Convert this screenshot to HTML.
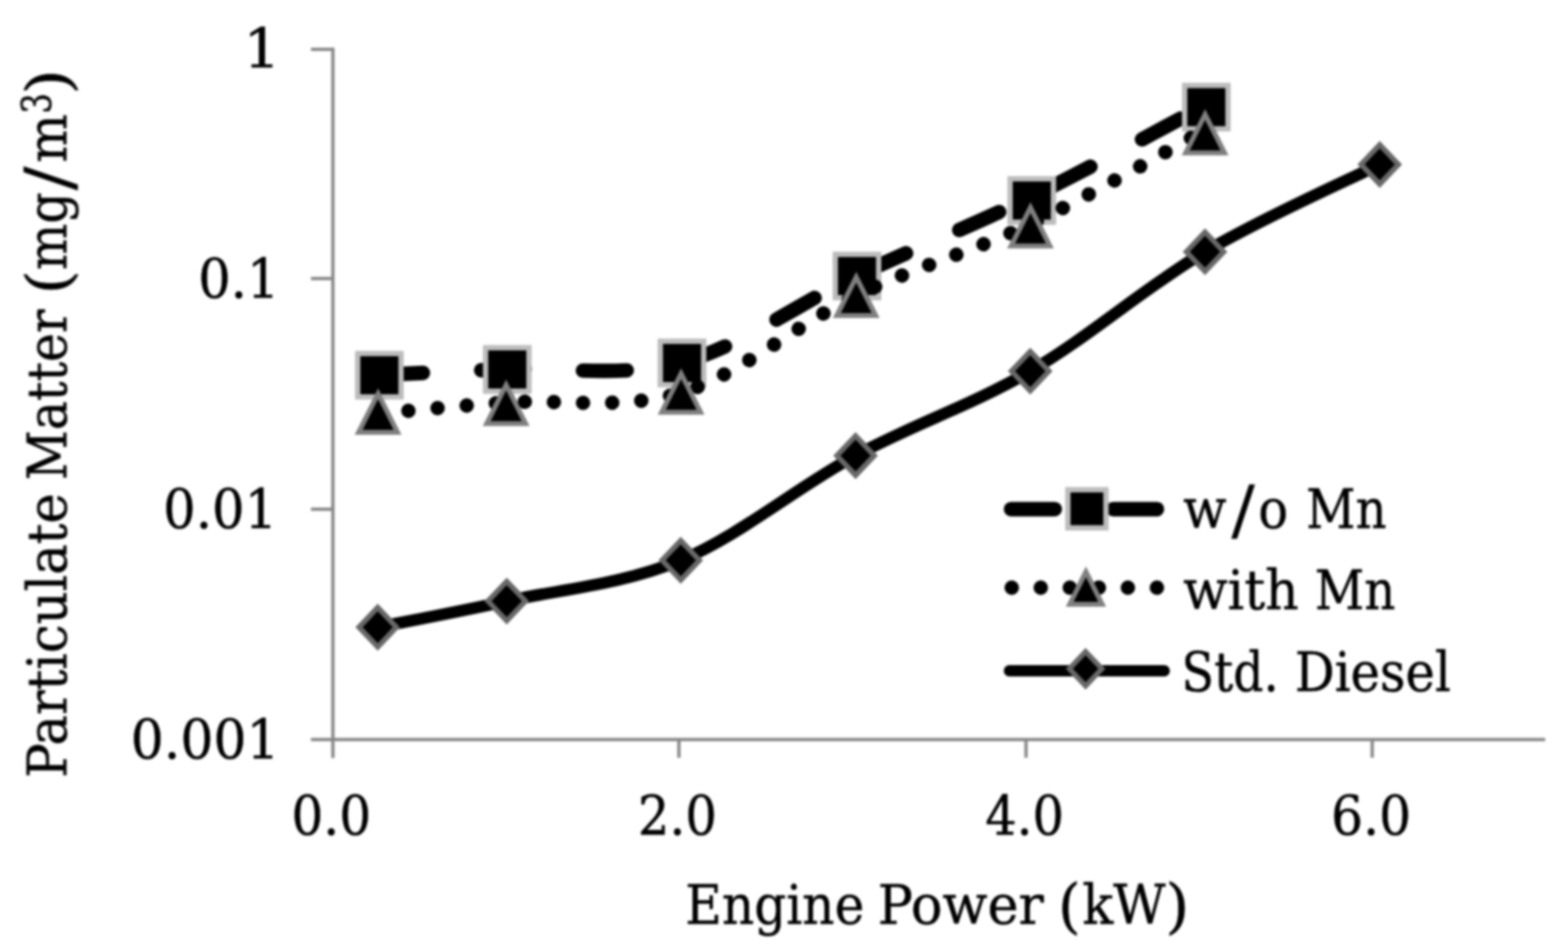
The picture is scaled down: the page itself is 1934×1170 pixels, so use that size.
<!DOCTYPE html>
<html lang="en"><head><meta charset="utf-8"><title>Particulate Matter vs Engine Power</title>
<style>html,body{margin:0;padding:0;background:#fff;}body{width:1934px;height:1170px;overflow:hidden;}svg{display:block;}text{font-family:"DejaVu Serif","Liberation Serif",serif;fill:#000;}</style>
</head><body>
<svg width="1934" height="1170" viewBox="0 0 1934 1170">
<rect width="1934" height="1170" fill="#fff"/>
<defs><filter id="soft" x="0" y="0" width="1934" height="1170" filterUnits="userSpaceOnUse" color-interpolation-filters="sRGB"><feGaussianBlur stdDeviation="1.4"/></filter></defs>
<g id="chart" filter="url(#soft)">
<g stroke="#868686" stroke-width="4" fill="none" stroke-linecap="butt">
<line x1="410.6" y1="58.8" x2="410.6" y2="934.5"/>
<line x1="383.5" y1="911.7" x2="1905.8" y2="911.7"/>
<line x1="383.5" y1="60.8" x2="410.6" y2="60.8"/>
<line x1="383.5" y1="343.4" x2="410.6" y2="343.4"/>
<line x1="383.5" y1="627.8" x2="410.6" y2="627.8"/>
<line x1="837.4" y1="911.7" x2="837.4" y2="934.2"/>
<line x1="1265.5" y1="911.7" x2="1265.5" y2="934.2"/>
<line x1="1692.5" y1="911.7" x2="1692.5" y2="934.2"/>
</g>
<path d="M467.94 462.23 C494.24 461.04 563.52 457.66 625.74 455.08 C687.96 452.50 769.36 465.92 841.24 446.72 C913.12 427.52 985.14 373.93 1057.04 339.88 C1128.94 305.83 1200.82 277.56 1272.64 242.44 C1344.46 207.32 1452.06 148.03 1487.94 129.15" fill="none" stroke="#000" stroke-width="17.90" stroke-linecap="round" stroke-linejoin="round" stroke-dasharray="54 71.64"/>
<rect x="441.15" y="435.85" width="53.50" height="53.50" fill="#000" stroke="#bcbcbc" stroke-width="6.50"/>
<rect x="598.95" y="428.75" width="53.50" height="53.50" fill="#000" stroke="#bcbcbc" stroke-width="6.50"/>
<rect x="814.45" y="420.75" width="53.50" height="53.50" fill="#000" stroke="#bcbcbc" stroke-width="6.50"/>
<rect x="1030.25" y="313.55" width="53.50" height="53.50" fill="#000" stroke="#bcbcbc" stroke-width="6.50"/>
<rect x="1245.85" y="220.45" width="53.50" height="53.50" fill="#000" stroke="#bcbcbc" stroke-width="6.50"/>
<rect x="1461.15" y="105.35" width="53.50" height="53.50" fill="#000" stroke="#bcbcbc" stroke-width="6.50"/>
<path d="M467.24 509.88 C493.54 507.59 562.82 500.44 625.04 496.13 C687.26 491.82 768.66 506.03 840.54 484.04 C912.42 462.05 984.44 398.91 1056.34 364.21 C1128.24 329.51 1200.12 309.88 1271.94 275.84 C1343.76 241.79 1451.36 179.26 1487.24 159.94" fill="none" stroke="#000" stroke-width="17.90" stroke-linecap="round" stroke-linejoin="round" stroke-dasharray="0.01 35.92" stroke-dashoffset="-1.09"/>
<polygon points="466.30,485.48 442.30,532.98 490.30,532.98" fill="#000" stroke="#7f7f7f" stroke-width="6.00" stroke-linejoin="miter" stroke-miterlimit="10"/>
<polygon points="624.30,474.68 600.30,522.18 648.30,522.18" fill="#000" stroke="#7f7f7f" stroke-width="6.00" stroke-linejoin="miter" stroke-miterlimit="10"/>
<polygon points="840.10,460.68 816.10,508.18 864.10,508.18" fill="#000" stroke="#7f7f7f" stroke-width="6.00" stroke-linejoin="miter" stroke-miterlimit="10"/>
<polygon points="1056.10,341.58 1032.10,389.08 1080.10,389.08" fill="#000" stroke="#7f7f7f" stroke-width="6.00" stroke-linejoin="miter" stroke-miterlimit="10"/>
<polygon points="1271.00,255.78 1247.00,303.28 1295.00,303.28" fill="#000" stroke="#7f7f7f" stroke-width="6.00" stroke-linejoin="miter" stroke-miterlimit="10"/>
<polygon points="1486.40,141.08 1462.40,188.58 1510.40,188.58" fill="#000" stroke="#7f7f7f" stroke-width="6.00" stroke-linejoin="miter" stroke-miterlimit="10"/>
<path d="M465.90 773.30 C492.42 767.93 562.70 754.85 625.00 741.10 C687.30 727.35 767.98 720.70 839.70 690.80 C911.42 660.90 983.47 600.57 1055.30 561.70 C1127.13 522.83 1198.87 499.48 1270.70 457.60 C1342.53 415.72 1414.45 352.88 1486.30 310.40 C1558.15 267.92 1665.88 220.65 1701.80 202.70" fill="none" stroke="#000" stroke-width="14.60" stroke-linecap="round" stroke-linejoin="round"/>
<polygon points="465.90,749.00 488.98,773.30 465.90,797.60 442.81,773.30" fill="#000" stroke="#686868" stroke-width="6.40" stroke-linejoin="miter"/>
<polygon points="625.00,716.80 648.09,741.10 625.00,765.40 601.91,741.10" fill="#000" stroke="#686868" stroke-width="6.40" stroke-linejoin="miter"/>
<polygon points="839.70,666.50 862.79,690.80 839.70,715.10 816.62,690.80" fill="#000" stroke="#686868" stroke-width="6.40" stroke-linejoin="miter"/>
<polygon points="1055.30,537.40 1078.38,561.70 1055.30,586.00 1032.21,561.70" fill="#000" stroke="#686868" stroke-width="6.40" stroke-linejoin="miter"/>
<polygon points="1270.70,433.30 1293.79,457.60 1270.70,481.90 1247.62,457.60" fill="#000" stroke="#686868" stroke-width="6.40" stroke-linejoin="miter"/>
<polygon points="1486.30,286.10 1509.38,310.40 1486.30,334.70 1463.21,310.40" fill="#000" stroke="#686868" stroke-width="6.40" stroke-linejoin="miter"/>
<polygon points="1701.80,178.40 1724.88,202.70 1701.80,227.00 1678.71,202.70" fill="#000" stroke="#686868" stroke-width="6.40" stroke-linejoin="miter"/>
<line x1="1247.0" y1="627.7" x2="1427.0" y2="627.7" stroke="#000" stroke-width="17.90" stroke-linecap="round" stroke-dasharray="54 72"/>
<rect x="1317.10" y="603.80" width="47.00" height="47.00" fill="#000" stroke="#bcbcbc" stroke-width="6.50"/>
<line x1="1247.9" y1="724.5" x2="1428.0" y2="724.5" stroke="#000" stroke-width="17.90" stroke-linecap="round" stroke-dasharray="0.01 35.8"/>
<polygon points="1339.40,704.95 1319.40,744.95 1359.40,744.95" fill="#000" stroke="#7f7f7f" stroke-width="6.00" stroke-linejoin="miter" stroke-miterlimit="10"/>
<line x1="1245.0" y1="827.0" x2="1436.0" y2="827.0" stroke="#000" stroke-width="13.90" stroke-linecap="round"/>
<polygon points="1339.00,803.30 1359.14,824.50 1339.00,845.70 1318.86,824.50" fill="#000" stroke="#686868" stroke-width="6.20" stroke-linejoin="miter"/>
<g font-size="67.5" stroke="#000" stroke-width="0.6" stroke-linejoin="round">
<text xml:space="default"><tspan x="300.18" y="83.40" textLength="45.75" lengthAdjust="spacingAndGlyphs">1</tspan></text>
<text xml:space="default"><tspan x="244.46" y="367.00" textLength="100.30" lengthAdjust="spacingAndGlyphs">0.1</tspan></text>
<text xml:space="default"><tspan x="201.36" y="651.00" textLength="140.50" lengthAdjust="spacingAndGlyphs">0.01</tspan></text>
<text xml:space="default"><tspan x="161.20" y="934.70" textLength="183.71" lengthAdjust="spacingAndGlyphs">0.001</tspan></text>
<text xml:space="default"><tspan x="359.53" y="1028.50" textLength="98.38" lengthAdjust="spacingAndGlyphs">0.0</tspan></text>
<text xml:space="default"><tspan x="786.76" y="1028.50" textLength="97.63" lengthAdjust="spacingAndGlyphs">2.0</tspan></text>
<text xml:space="default"><tspan x="1215.29" y="1028.50" textLength="97.08" lengthAdjust="spacingAndGlyphs">4.0</tspan></text>
<text xml:space="default"><tspan x="1641.72" y="1028.50" textLength="98.71" lengthAdjust="spacingAndGlyphs">6.0</tspan></text>
<text xml:space="default"><tspan x="845.25" y="1139.20" textLength="220.75" lengthAdjust="spacingAndGlyphs">Engine</tspan> <tspan x="1082.62" y="1139.20" textLength="204.57" lengthAdjust="spacingAndGlyphs">Power</tspan> <tspan x="1304.98" y="1142.20" textLength="27.99" lengthAdjust="spacingAndGlyphs" font-size="72.90">(</tspan><tspan x="1334.97" y="1139.20" textLength="102.75" lengthAdjust="spacingAndGlyphs">kW</tspan><tspan x="1437.51" y="1142.20" textLength="29.54" lengthAdjust="spacingAndGlyphs" font-size="72.90">)</tspan></text>
<text xml:space="default"><tspan x="1459.17" y="650.50" textLength="53.55" lengthAdjust="spacingAndGlyphs">w</tspan><tspan x="1519.00" y="657.00" textLength="28.52" lengthAdjust="spacingAndGlyphs" font-size="79.65">/</tspan><tspan x="1551.98" y="650.50" textLength="36.81" lengthAdjust="spacingAndGlyphs">o</tspan> <tspan x="1611.06" y="650.50" textLength="99.24" lengthAdjust="spacingAndGlyphs">Mn</tspan></text>
<text xml:space="default"><tspan x="1459.15" y="750.70" textLength="142.65" lengthAdjust="spacingAndGlyphs">with</tspan> <tspan x="1621.86" y="750.70" textLength="99.24" lengthAdjust="spacingAndGlyphs">Mn</tspan></text>
<text xml:space="default"><tspan x="1457.25" y="851.50" textLength="119.99" lengthAdjust="spacingAndGlyphs">Std.</tspan> <tspan x="1596.97" y="851.50" textLength="192.57" lengthAdjust="spacingAndGlyphs">Diesel</tspan></text>
<g transform="translate(81.80 1000.00) rotate(-90)"><text xml:space="default"><tspan x="40.98" y="0.00" textLength="351.09" lengthAdjust="spacingAndGlyphs">Particulate</tspan> <tspan x="408.03" y="0.00" textLength="210.22" lengthAdjust="spacingAndGlyphs">Matter</tspan> <tspan x="637.11" y="3.00" textLength="30.08" lengthAdjust="spacingAndGlyphs" font-size="72.90">(</tspan><tspan x="667.11" y="0.00" textLength="95.87" lengthAdjust="spacingAndGlyphs">mg</tspan><tspan x="765.60" y="6.50" textLength="29.22" lengthAdjust="spacingAndGlyphs" font-size="79.65">/</tspan><tspan x="799.52" y="0.00" textLength="60.02" lengthAdjust="spacingAndGlyphs">m</tspan><tspan x="859.98" y="-19.50" textLength="25.23" lengthAdjust="spacingAndGlyphs" font-size="51.30">3</tspan><tspan x="883.22" y="3.00" textLength="31.76" lengthAdjust="spacingAndGlyphs" font-size="72.90">)</tspan></text></g>
</g>
</g>
</svg>
</body></html>
